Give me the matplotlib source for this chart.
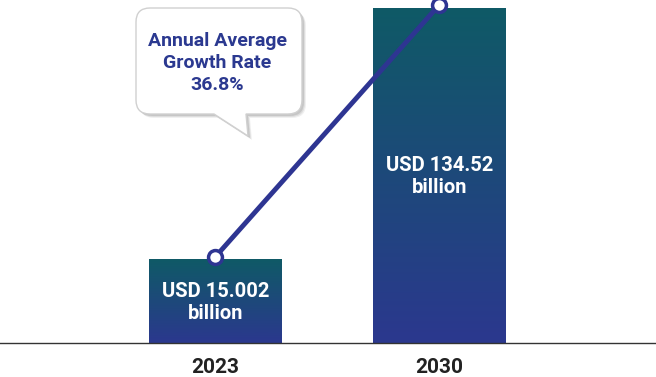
import numpy as np
import matplotlib.pyplot as plt
from matplotlib.path import Path
from matplotlib.patches import PathPatch
from matplotlib.colors import to_rgb

# Data
years = ['2023', '2030']
values = [15.002, 134.52]  # USD billion
value_labels = ['USD 15.002\nbillion', 'USD 134.52\nbillion']
growth_text = 'Annual Average\nGrowth Rate\n36.8%'

plt.rcParams['font.family'] = ['Roboto', 'DejaVu Sans']

top_col = np.array(to_rgb('#0f5a66'))
bot_col = np.array(to_rgb('#2b388e'))
navy = '#2e3592'

fig = plt.figure(figsize=(6.56, 3.77), dpi=100)
ax = fig.add_axes([0, 34 / 377, 1, 343 / 377])
ax.set_yscale('log')
ymin, ymax = 7.22, 143.0
ax.set_ylim(ymin, ymax)
ax.set_xlim(-0.962, 1.967)
ax.axis('off')

x = np.arange(len(values))
bar_w = 0.594

# gradient bars: top teal -> bottom blue, over each bar's own height
bars = ax.bar(x, [v - ymin for v in values], bottom=ymin, width=bar_w,
              color='none', edgecolor='none', zorder=1)
for b, xi, v in zip(bars, x, values):
    ys = np.linspace(ymin, v, 400)
    t = (np.log10(ys) - np.log10(ymin)) / (np.log10(v) - np.log10(ymin))
    img = bot_col[None, :] * (1 - t[:, None]) + top_col[None, :] * t[:, None]
    img = img[:, None, :]
    im = ax.imshow(img, extent=(xi - bar_w / 2, xi + bar_w / 2, ymin, v),
                   origin='lower', aspect='auto', interpolation='bilinear', zorder=1)
    im.set_clip_path(b)
ax.set_xlim(-0.962, 1.967)
ax.set_ylim(ymin, ymax)

# value labels inside bars
ax.text(x[0], 10.27, value_labels[0], ha='center', va='center', color='white',
        fontsize=14.5, fontweight='bold', linespacing=1.2, zorder=3)
ax.text(x[1], 30.8, value_labels[1], ha='center', va='center', color='white',
        fontsize=14.5, fontweight='bold', linespacing=1.2, zorder=3)

# growth line
ax.plot(x, [v * 1.02 for v in values], color=navy, lw=3.5, zorder=4,
        solid_capstyle='round', marker='o', ms=10, mfc='white', mec=navy, mew=2.5)

# baseline
fig.add_artist(plt.Line2D([0, 1], [34 / 377, 34 / 377], color='#333333', lw=1.0))

# year labels
for xi, yr in zip(x, years):
    ax.text(xi, -0.07, yr, transform=ax.get_xaxis_transform(), ha='center',
            va='center', fontsize=15, fontweight='bold', color='#222222')

# speech bubble in pixel coordinates
ov = fig.add_axes([0, 0, 1, 1], zorder=5)
ov.set_xlim(0, 656)
ov.set_ylim(377, 0)
ov.axis('off')

x0, x1, y0, y1, r = 136, 302, 8, 114, 14
verts = [
    (x0 + r, y0), (x1 - r, y0), (x1, y0), (x1, y0 + r),
    (x1, y1 - r), (x1, y1), (x1 - r, y1),
    (246, y1), (248, 136), (214, y1),
    (x0 + r, y1), (x0, y1), (x0, y1 - r),
    (x0, y0 + r), (x0, y0), (x0 + r, y0), (x0 + r, y0),
]
codes = [
    Path.MOVETO, Path.LINETO, Path.CURVE3, Path.CURVE3,
    Path.LINETO, Path.CURVE3, Path.CURVE3,
    Path.LINETO, Path.LINETO, Path.LINETO,
    Path.LINETO, Path.CURVE3, Path.CURVE3,
    Path.LINETO, Path.CURVE3, Path.CURVE3, Path.CLOSEPOLY,
]
for i, a in enumerate([0.06, 0.08, 0.10]):
    off = 4 - i
    sh = Path(np.array(verts) + [off, off], codes)
    ov.add_patch(PathPatch(sh, facecolor='black', edgecolor='none', alpha=a))
ov.add_patch(PathPatch(Path(verts, codes), facecolor='white',
                       edgecolor='#d0d0d0', lw=1.0))
ov.text(217, 63, growth_text, ha='center', va='center', color='#2b3990',
        fontsize=14, fontweight='bold', linespacing=1.3)

fig.savefig('out.png', dpi=100)
